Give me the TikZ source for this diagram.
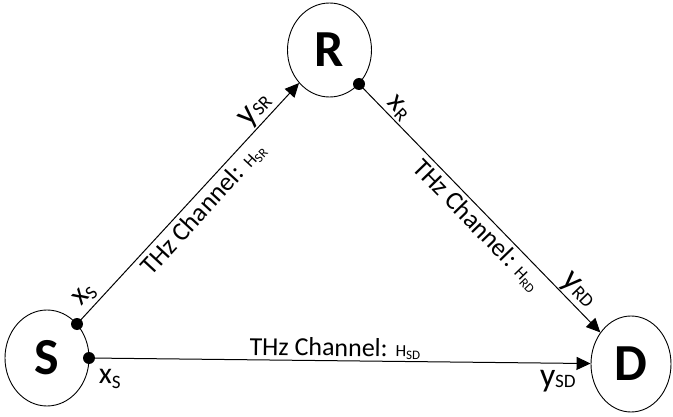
\documentclass[tikz,border=0pt]{standalone}
\usepackage{fontspec}
\setmainfont{Carlito}
\usetikzlibrary{shapes.geometric,arrows.meta}
\tikzset{
 party/.style={draw, ellipse, line width=0.9pt, inner sep=0pt, font=\fontsize{52}{52}\selectfont\bfseries},
 dot/.style={circle, fill=black, inner sep=0pt, minimum size=12pt},
 link/.style={-{Triangle[length=14pt,width=13pt]}, line width=1pt},
 chan/.style={font=\fontsize{26}{26}\selectfont, inner sep=1pt, sloped},
 sig/.style={font=\fontsize{30}{30}\selectfont, inner sep=2pt, sloped},
 bigsig/.style={font=\fontsize{34}{34}\selectfont, inner sep=1pt, sloped},
}
\newcommand\chsub[1]{{\fontsize{17}{17}\selectfont H\raisebox{-3pt}{\fontsize{13}{13}\selectfont #1}}}
\newcommand\sigsub[2]{#1\raisebox{-4pt}{\fontsize{19}{19}\selectfont #2}}
\newcommand\ysub[2]{#1\raisebox{-1pt}{\fontsize{19}{19}\selectfont #2}}
\begin{document}
\begin{tikzpicture}[x=1pt,y=-1pt]
\useasboundingbox (0,0) rectangle (673,417);
% nodes
\node[party, minimum width=84pt, minimum height=96pt] (S) at (47,358) {S};
\node[party, minimum width=84pt, minimum height=94pt] (R) at (329.5,50) {R};
\node[party, minimum width=80pt, minimum height=96pt] (D) at (631,364) {D};
% dots
\node[dot] (s1) at (77,324) {};
\node[dot] (s2) at (89,358) {};
\node[dot] (r1) at (359,84) {};
% links with labels
\draw[link] (s1.center) -- (R)
  node[sig, above, pos=0.08, inner sep=4pt] (lxs1) {\sigsub{x}{S}}
  node[chan, below, pos=0.52, inner sep=4pt] (lhsr) {THz Channel: \chsub{SR}}
  node[bigsig, above, pos=0.85] (lysr) {\ysub{y}{SR}};
\draw[link] (r1.center) -- (D)
  node[sig, above, pos=0.13] (lxr) {\sigsub{x}{R}}
  node[chan, below, pos=0.53, inner sep=3pt] (lhrd) {THz Channel: \chsub{RD}}
  node[bigsig, above, pos=0.87] (lyrd) {\ysub{y}{RD}};
\draw[link] (s2.center) -- (D)
  node[chan, above, pos=0.49] (lhsd) {THz Channel: \chsub{SD}}
  node[bigsig, below, pos=0.935, inner sep=7pt] (lysd) {\ysub{y}{SD}}
  node[sig, below, pos=0.042, inner sep=11pt] (lxs2) {\sigsub{x}{S}};
\end{tikzpicture}
\end{document}
